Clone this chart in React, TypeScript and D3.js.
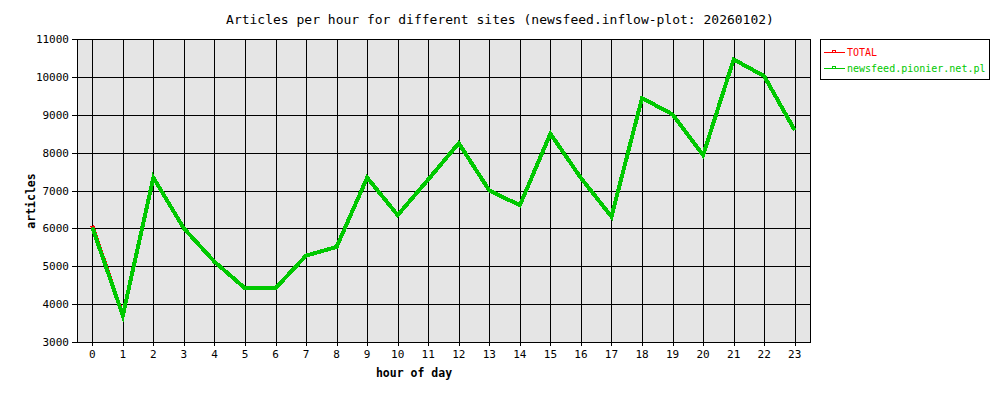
import React from "react";
import * as d3 from "d3";

const hours = [0,1,2,3,4,5,6,7,8,9,10,11,12,13,14,15,16,17,18,19,20,21,22,23];
const newsfeed = [6030,3700,7340,6000,5120,4420,4420,5280,5510,7340,6350,7290,8250,7000,6610,8500,7330,6310,9440,9010,7930,10460,10020,8590];
const total = [6070,3700,7340,6000,5120,4420,4420,5280,5510,7340,6350,7290,8250,7000,6610,8500,7330,6310,9440,9010,7930,10460,10020,8590];
const yTicks = [3000,4000,5000,6000,7000,8000,9000,10000,11000];
const seriesNames = ["TOTAL","newsfeed.pionier.net.pl"];
const seriesColors = ["#ff0000","#00c800"];

const W = 1000, H = 400;
const L = 77, R = 810, T = 39, B = 342;
const mono = "'DejaVu Sans Mono', 'Liberation Mono', monospace";

export default function App() {
  const x = d3.scaleLinear().domain([-0.5, 23.5]).range([L, R]);
  const y = d3.scaleLinear().domain([3000, 11000]).range([B, T]);
  const line = d3.line<number>().x((_, i) => x(hours[i])).y(d => y(d));
  const series = [total, newsfeed];
  return (
    <svg width={W} height={H} style={{ position: "absolute", left: 0, top: 0, background: "#fff" }}>
      <rect x={L} y={T} width={R - L} height={B - T} fill="#e5e5e5" />
      {yTicks.map(t => (
        <g key={"y" + t}>
          <line x1={L - 5} x2={R} y1={Math.round(y(t)) + 0.5} y2={Math.round(y(t)) + 0.5} stroke="#000" strokeWidth={1} />
          <text x={L - 8} y={Math.round(y(t)) + 4} textAnchor="end" fontFamily={mono} fontSize={11}>{t}</text>
        </g>
      ))}
      {hours.map(h => (
        <g key={"x" + h}>
          <line x1={Math.round(x(h)) + 0.5} x2={Math.round(x(h)) + 0.5} y1={T} y2={B + 4} stroke="#000" strokeWidth={1} />
          <text x={x(h)} y={B + 16} textAnchor="middle" fontFamily={mono} fontSize={11}>{h}</text>
        </g>
      ))}
      <rect x={L + 0.5} y={T + 0.5} width={R - L} height={B - T} fill="none" stroke="#000" strokeWidth={1} />
      {series.map((s, i) => (
        <path key={"s" + i} d={line(s) || ""} fill="none" stroke={seriesColors[i]} strokeWidth={4} strokeLinejoin="miter" shapeRendering="crispEdges" />
      ))}
      <text x={500} y={24} textAnchor="middle" fontFamily={mono} fontSize={13}>Articles per hour for different sites (newsfeed.inflow-plot: 20260102)</text>
      <text x={414} y={377} textAnchor="middle" fontFamily={mono} fontSize={11.5} fontWeight="bold">hour of day</text>
      <text transform="translate(35,201) rotate(-90)" textAnchor="middle" fontFamily={mono} fontSize={11.5} fontWeight="bold">articles</text>
      <rect x={820.5} y={39.5} width={169} height={40} fill="#fff" stroke="#000" strokeWidth={1} />
      {seriesNames.map((n, i) => (
        <g key={"l" + i}>
          <line x1={824} x2={845} y1={52.5 + i * 16} y2={52.5 + i * 16} stroke={seriesColors[i]} strokeWidth={1} />
          <rect x={832.5} y={50.5 + i * 16} width={3} height={2} fill="none" stroke={seriesColors[i]} strokeWidth={1} />
          <text x={847} y={56 + i * 16} fontFamily={mono} fontSize={10} fill={seriesColors[i]}>{n}</text>
        </g>
      ))}
    </svg>
  );
}
